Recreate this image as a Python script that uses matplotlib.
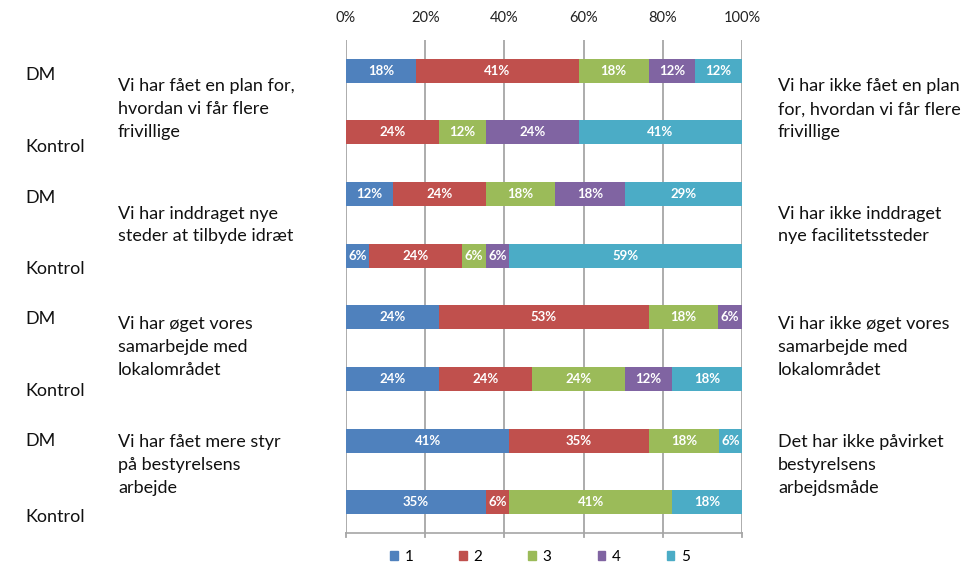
import matplotlib
matplotlib.use("Agg")
import matplotlib.pyplot as plt
from matplotlib.patches import Patch
import numpy as np

plt.rcParams['font.family'] = ['Lato', 'DejaVu Sans']

# Data (percent of respondents, n=17 per group)
row_labels = ["DM", "Kontrol", "DM", "Kontrol", "DM", "Kontrol", "DM", "Kontrol"]
series_names = ["1", "2", "3", "4", "5"]
s1 = [17.6, 0.0, 11.8, 5.9, 23.5, 23.5, 41.2, 35.3]
s2 = [41.2, 23.5, 23.5, 23.5, 52.9, 23.5, 35.3, 5.9]
s3 = [17.6, 11.8, 17.6, 5.9, 17.6, 23.5, 17.6, 41.2]
s4 = [11.8, 23.5, 17.6, 5.9, 5.9, 11.8, 0.0, 0.0]
s5 = [11.8, 41.2, 29.4, 58.8, 0.0, 17.6, 5.9, 17.6]
left_texts = ["Vi har fået en plan for,\nhvordan vi får flere\nfrivillige",
              "Vi har inddraget nye\nsteder at tilbyde idræt",
              "Vi har øget vores\nsamarbejde med\nlokalområdet",
              "Vi har fået mere styr\npå bestyrelsens\narbejde"]
right_texts = ["Vi har ikke fået en plan\nfor, hvordan vi får flere\nfrivillige",
               "Vi har ikke inddraget\nnye facilitetssteder",
               "Vi har ikke øget vores\nsamarbejde med\nlokalområdet",
               "Det har ikke påvirket\nbestyrelsens\narbejdsmåde"]
xticks = [0, 20, 40, 60, 80, 100]
xtick_labels = ["0%", "20%", "40%", "60%", "80%", "100%"]

colors = ["#4F81BD", "#C0504D", "#9BBB59", "#8064A2", "#4BACC6"]

W, H = 966, 565
fig = plt.figure(figsize=(W / 100, H / 100), dpi=100)
ax = fig.add_axes([346 / W, 1 - 533 / H, (742 - 346) / W, (533 - 40) / H])

series = [s1, s2, s3, s4, s5]
y = np.arange(len(row_labels))
left = np.zeros(len(row_labels))
for vals, col, name in zip(series, colors, series_names):
    vals = np.array(vals)
    ax.barh(y, vals, left=left, height=0.39, color=col, label=name, zorder=3)
    for yi, (l, v) in enumerate(zip(left, vals)):
        if v > 0:
            ax.text(l + v / 2, yi, f"{v:.0f}%", ha="center", va="center",
                    color="white", fontsize=9.5, fontweight="bold", zorder=4)
    left += vals

ax.set_xlim(0, 100)
ax.set_ylim(7.5, -0.5)
ax.set_xticks(xticks)
ax.set_xticklabels(xtick_labels, fontsize=10.5, color="#222222")
ax.xaxis.tick_top()
ax.tick_params(axis="x", length=0, pad=11)
ax.set_yticks([])
for s in ["top", "right", "left"]:
    ax.spines[s].set_visible(False)
ax.spines["bottom"].set_color("#a6a6a6")
ax.spines["bottom"].set_linewidth(1.2)
ax.grid(axis="x", color="#a6a6a6", linewidth=1.3, zorder=0)
# small tick marks below bottom axis
for xt in xticks:
    ax.plot([xt, xt], [7.5, 7.57], color="#a6a6a6", lw=1.3, clip_on=False)

# Row labels
fs = 13
row_px = [73, 146, 196, 268, 318, 390, 440, 515]
for lab, py in zip(row_labels, row_px):
    fig.text(25 / W, 1 - py / H, lab, ha="left", va="center_baseline", fontsize=fs, color="#111111")

first_line_px = [85, 212, 323, 441]
line_gap = 22.7
for texts, x0 in ((left_texts, 118), (right_texts, 778)):
    for t, py in zip(texts, first_line_px):
        for k, line in enumerate(t.split("\n")):
            fig.text(x0 / W, 1 - (py + k * line_gap) / H, line, ha="left",
                     va="center_baseline", fontsize=fs, color="#111111")

handles = [Patch(facecolor=c, edgecolor=c) for c in colors]
fig.legend(handles, series_names, loc="center", bbox_to_anchor=(540 / W, 1 - 557 / H),
           ncol=5, frameon=False, fontsize=11, handlelength=0.5, handleheight=0.5,
           handletextpad=0.45, columnspacing=3.0)

fig.savefig("out.png", dpi=100)
